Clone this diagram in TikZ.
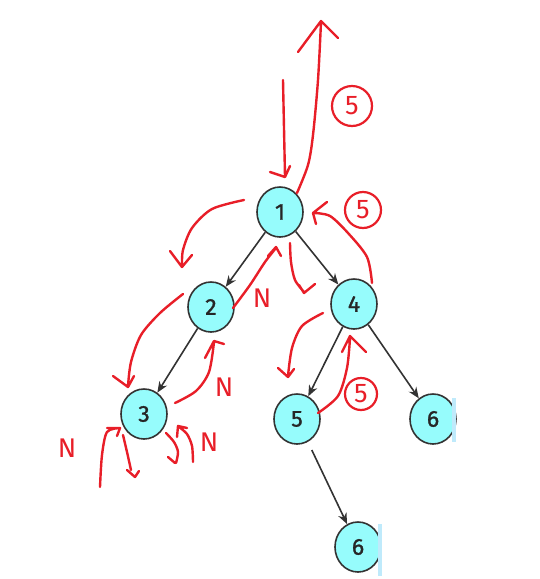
\documentclass[tikz,border=0pt]{standalone}
\usepackage{fontspec}
\setsansfont{Fira Sans}
\newfontfamily\digitfont{Fira Sans}[FakeBold=1.2]
\usepackage{xcolor}
\usetikzlibrary{arrows.meta, shapes.geometric}
\definecolor{nodecyan}{RGB}{150,252,252}
\definecolor{pen}{RGB}{232,30,40}

\begin{document}
\begin{tikzpicture}[x=1pt, y=-1pt,
    vertex/.style={ellipse, draw=black!80, line width=1.6pt, fill=nodecyan,
      minimum width=46pt, minimum height=50pt, inner sep=0pt,
      font=\digitfont\fontsize{23}{23}\selectfont, text=black!85},
    edge/.style={draw=black!80, line width=1.6pt, -{Stealth[length=11pt,width=9pt]}},
    ink/.style={draw=pen, line width=2.4pt, line cap=round, line join=round},
    note/.style={text=pen, font=\sffamily\fontsize{27}{27}\selectfont, inner sep=0pt},
    circled/.style={note, draw=pen, line width=2.2pt, ellipse, inner sep=1pt,
      minimum width=#1, minimum height=#1}]
  \useasboundingbox (0,0) rectangle (540,579);
  % ---------- tree ----------
  \node[vertex] (n1) at (280,212) {1};
  \node[vertex] (n2) at (211,307) {2};
  \node[vertex] (n4) at (354,304) {4};
  \node[vertex] (n3) at (144,414) {3};
  \node[vertex] (n5) at (297,419) {5};
  \node[vertex] (n6) at (433,419) {6};
  \node[vertex] (n7) at (358,547) {6};
  \fill[cyan!25] (452,398) rectangle (456,442);
  \fill[cyan!25] (378,524) rectangle (382,576);
  \draw[edge] (n1) -- (n2);
  \draw[edge] (n1) -- (n4);
  \draw[edge] (n2) -- (n3);
  \draw[edge] (n4) -- (n5);
  \draw[edge] (n4) -- (n6);
  \draw[edge, shorten <=9pt] (n5) -- (n7);
  % ---------- red marks ----------
  \draw[ink] (283,80) -- (285,176) (270,172) -- (285,177) -- (290,166);
  \draw[ink] plot[smooth] coordinates {(297,193) (308,165) (313,135) (318,80) (321,22)}
    (298,52) -- (321,21) -- (338,38);
  \node[circled=40pt] (b1) at (352,106) {5};
  \draw[ink] plot[smooth] coordinates {(244,200) (212,209) (192,228) (183,250) (182,266)}
    (170,251) -- (182,267) -- (192,255);
  \draw[ink] plot[smooth] coordinates {(233,308) (250,285) (265,262) (276,248)}
    (268,256) -- (276,247) -- (281,256);
  \node[note] (m1) at (262,298) {N};
  \draw[ink] plot[smooth] coordinates {(290,243) (291,262) (295,280) (304,292)}
    (299,285) -- (304,293) -- (315,284);
  \draw[ink] plot[smooth] coordinates {(372,283) (367,257) (348,233) (330,216) (314,213)}
    (327,202) -- (313,213) -- (316,224);
  \node[circled=36pt] (b2) at (363,210) {5};
  \draw[ink] plot[smooth] coordinates {(183,294) (160,313) (141,335) (131,362) (128,386)}
    (113,376) -- (128,387) -- (134,376);
  \draw[ink] plot[smooth] coordinates {(175,403) (196,391) (209,372) (214,342)}
    (205,358) -- (214,341) -- (224,344);
  \node[note] (m2) at (224,387) {N};
  \draw[ink] plot[smooth] coordinates {(100,487) (102,455) (107,432) (120,428)}
    (107,428) -- (120,428) -- (117,436);
  \node[note] (m3) at (67,448) {N};
  \draw[ink] plot[smooth] coordinates {(123,435) (127,452) (131,470)}
    (127,470) -- (135,477) -- (139,471);
  \draw[ink] plot[smooth] coordinates {(166,433) (174,442) (178,452) (176,463)}
    (168,457) -- (175,463);
  \draw[ink] plot[smooth] coordinates {(193,462) (192,446) (187,434) (179,427)}
    (177,437) -- (178,426) -- (187,428);
  \node[note] (m4) at (209,442) {N};
  \draw[ink] plot[smooth] coordinates {(323,313) (302,326) (292,348) (288,376)}
    (278,368) -- (288,377) -- (294,369);
  \draw[ink] plot[smooth] coordinates {(318,413) (338,396) (347,368) (350,338)}
    (342,352) -- (350,336) -- (366,352);
  \node[circled=32pt] (b3) at (361,394) {5};
\end{tikzpicture}
\end{document}
